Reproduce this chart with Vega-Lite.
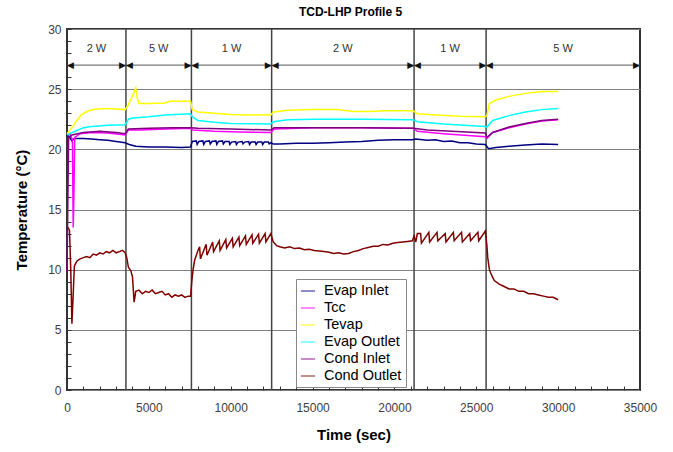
{
  "$schema": "https://vega.github.io/schema/vega-lite/v6.json",
  "width": 573,
  "height": 361,
  "autosize": "none",
  "padding": {"left": 67, "top": 29, "right": 33, "bottom": 62},
  "title": {"text": "TCD-LHP Profile 5", "fontSize": 12, "font": "Liberation Sans", "fontWeight": "bold", "offset": 4, "dx": -3, "anchor": "middle", "color": "#000"},
  "config": {
    "view": {"stroke": "#333", "strokeWidth": 2},
    "font": "Liberation Sans",
    "axis": {"labelFont": "Liberation Sans", "titleFont": "Liberation Sans"}
  },
  "datasets": {
    "segments": [
      {"label": "2 W", "start": 0, "end": 3600},
      {"label": "5 W", "start": 3600, "end": 7600},
      {"label": "1 W", "start": 7600, "end": 12500},
      {"label": "2 W", "start": 12500, "end": 21200},
      {"label": "1 W", "start": 21200, "end": 25600},
      {"label": "5 W", "start": 25600, "end": 35000}
    ],
    "series": [
      {"series":"Evap Inlet","time":0,"temp":21.2},{"series":"Evap Inlet","time":150,"temp":21.0},{"series":"Evap Inlet","time":300,"temp":20.7},{"series":"Evap Inlet","time":450,"temp":20.9},{"series":"Evap Inlet","time":1000,"temp":20.9},{"series":"Evap Inlet","time":1500,"temp":20.85},{"series":"Evap Inlet","time":2000,"temp":20.8},{"series":"Evap Inlet","time":2500,"temp":20.75},{"series":"Evap Inlet","time":3000,"temp":20.65},{"series":"Evap Inlet","time":3550,"temp":20.55},{"series":"Evap Inlet","time":3800,"temp":20.4},{"series":"Evap Inlet","time":4200,"temp":20.25},{"series":"Evap Inlet","time":5000,"temp":20.2},{"series":"Evap Inlet","time":6000,"temp":20.2},{"series":"Evap Inlet","time":7000,"temp":20.15},{"series":"Evap Inlet","time":7550,"temp":20.2},{"series":"Evap Inlet","time":7650,"temp":20.65},
      {"series":"Evap Inlet","time":7900,"temp":20.7},{"series":"Evap Inlet","time":7950,"temp":20.4},{"series":"Evap Inlet","time":8050,"temp":20.65},{"series":"Evap Inlet","time":8300,"temp":20.7},{"series":"Evap Inlet","time":8350,"temp":20.4},{"series":"Evap Inlet","time":8450,"temp":20.65},{"series":"Evap Inlet","time":8700,"temp":20.7},{"series":"Evap Inlet","time":8750,"temp":20.45},{"series":"Evap Inlet","time":8850,"temp":20.65},{"series":"Evap Inlet","time":9100,"temp":20.7},{"series":"Evap Inlet","time":9150,"temp":20.4},{"series":"Evap Inlet","time":9250,"temp":20.65},{"series":"Evap Inlet","time":9500,"temp":20.7},{"series":"Evap Inlet","time":9550,"temp":20.45},{"series":"Evap Inlet","time":9650,"temp":20.65},{"series":"Evap Inlet","time":9900,"temp":20.65},{"series":"Evap Inlet","time":9950,"temp":20.4},{"series":"Evap Inlet","time":10050,"temp":20.6},{"series":"Evap Inlet","time":10300,"temp":20.65},{"series":"Evap Inlet","time":10350,"temp":20.4},{"series":"Evap Inlet","time":10450,"temp":20.6},{"series":"Evap Inlet","time":10700,"temp":20.65},{"series":"Evap Inlet","time":10750,"temp":20.45},{"series":"Evap Inlet","time":10850,"temp":20.6},{"series":"Evap Inlet","time":11100,"temp":20.65},{"series":"Evap Inlet","time":11150,"temp":20.4},{"series":"Evap Inlet","time":11250,"temp":20.6},{"series":"Evap Inlet","time":11500,"temp":20.6},{"series":"Evap Inlet","time":11550,"temp":20.4},{"series":"Evap Inlet","time":11650,"temp":20.6},{"series":"Evap Inlet","time":11900,"temp":20.6},{"series":"Evap Inlet","time":11950,"temp":20.4},{"series":"Evap Inlet","time":12050,"temp":20.6},{"series":"Evap Inlet","time":12300,"temp":20.6},{"series":"Evap Inlet","time":12350,"temp":20.45},{"series":"Evap Inlet","time":12450,"temp":20.55},
      {"series":"Evap Inlet","time":12600,"temp":20.45},{"series":"Evap Inlet","time":13000,"temp":20.45},{"series":"Evap Inlet","time":14000,"temp":20.5},{"series":"Evap Inlet","time":15000,"temp":20.5},{"series":"Evap Inlet","time":16000,"temp":20.55},{"series":"Evap Inlet","time":17000,"temp":20.6},{"series":"Evap Inlet","time":18000,"temp":20.65},{"series":"Evap Inlet","time":19000,"temp":20.75},{"series":"Evap Inlet","time":20000,"temp":20.8},{"series":"Evap Inlet","time":21100,"temp":20.8},{"series":"Evap Inlet","time":21300,"temp":20.85},{"series":"Evap Inlet","time":22000,"temp":20.75},{"series":"Evap Inlet","time":22500,"temp":20.8},{"series":"Evap Inlet","time":23000,"temp":20.65},{"series":"Evap Inlet","time":23500,"temp":20.7},{"series":"Evap Inlet","time":24000,"temp":20.55},{"series":"Evap Inlet","time":24500,"temp":20.55},{"series":"Evap Inlet","time":25000,"temp":20.45},{"series":"Evap Inlet","time":25550,"temp":20.4},{"series":"Evap Inlet","time":25750,"temp":20.05},{"series":"Evap Inlet","time":26200,"temp":20.15},{"series":"Evap Inlet","time":27000,"temp":20.25},{"series":"Evap Inlet","time":28000,"temp":20.35},{"series":"Evap Inlet","time":29000,"temp":20.45},{"series":"Evap Inlet","time":30000,"temp":20.4},

      {"series":"Tcc","time":0,"temp":21.3},{"series":"Tcc","time":200,"temp":21.2},{"series":"Tcc","time":330,"temp":20.8},{"series":"Tcc","time":380,"temp":13.5},{"series":"Tcc","time":420,"temp":16.0},{"series":"Tcc","time":470,"temp":21.0},{"series":"Tcc","time":800,"temp":21.3},{"series":"Tcc","time":1500,"temp":21.4},{"series":"Tcc","time":2500,"temp":21.35},{"series":"Tcc","time":3550,"temp":21.2},{"series":"Tcc","time":3750,"temp":21.6},{"series":"Tcc","time":4500,"temp":21.6},{"series":"Tcc","time":6000,"temp":21.7},{"series":"Tcc","time":7550,"temp":21.75},{"series":"Tcc","time":7700,"temp":21.6},{"series":"Tcc","time":9000,"temp":21.5},{"series":"Tcc","time":10500,"temp":21.45},{"series":"Tcc","time":12450,"temp":21.4},{"series":"Tcc","time":12650,"temp":21.7},{"series":"Tcc","time":15000,"temp":21.8},{"series":"Tcc","time":18000,"temp":21.8},{"series":"Tcc","time":21150,"temp":21.75},{"series":"Tcc","time":21400,"temp":21.5},{"series":"Tcc","time":23000,"temp":21.3},{"series":"Tcc","time":25550,"temp":21.05},{"series":"Tcc","time":25650,"temp":20.9},{"series":"Tcc","time":26000,"temp":21.4},{"series":"Tcc","time":27000,"temp":21.8},{"series":"Tcc","time":28000,"temp":22.1},{"series":"Tcc","time":29000,"temp":22.35},{"series":"Tcc","time":30000,"temp":22.45},

      {"series":"Tevap","time":0,"temp":21.3},{"series":"Tevap","time":300,"temp":21.8},{"series":"Tevap","time":600,"temp":22.4},{"series":"Tevap","time":900,"temp":22.9},{"series":"Tevap","time":1300,"temp":23.2},{"series":"Tevap","time":1800,"temp":23.35},{"series":"Tevap","time":2500,"temp":23.4},{"series":"Tevap","time":3000,"temp":23.35},{"series":"Tevap","time":3550,"temp":23.3},{"series":"Tevap","time":3700,"temp":23.6},{"series":"Tevap","time":3950,"temp":24.3},{"series":"Tevap","time":4200,"temp":25.1},{"series":"Tevap","time":4280,"temp":24.3},{"series":"Tevap","time":4400,"temp":23.8},{"series":"Tevap","time":5000,"temp":23.8},{"series":"Tevap","time":6000,"temp":23.85},{"series":"Tevap","time":6300,"temp":24.0},{"series":"Tevap","time":7550,"temp":24.0},{"series":"Tevap","time":7650,"temp":23.3},{"series":"Tevap","time":8000,"temp":23.1},{"series":"Tevap","time":9000,"temp":23.0},{"series":"Tevap","time":10000,"temp":22.9},{"series":"Tevap","time":11000,"temp":22.85},{"series":"Tevap","time":12450,"temp":22.85},{"series":"Tevap","time":12600,"temp":23.1},{"series":"Tevap","time":13500,"temp":23.25},{"series":"Tevap","time":15000,"temp":23.3},{"series":"Tevap","time":16500,"temp":23.3},{"series":"Tevap","time":17500,"temp":23.15},{"series":"Tevap","time":18500,"temp":23.15},{"series":"Tevap","time":19500,"temp":23.2},{"series":"Tevap","time":21150,"temp":23.2},{"series":"Tevap","time":21400,"temp":22.95},{"series":"Tevap","time":22500,"temp":22.85},{"series":"Tevap","time":24000,"temp":22.75},{"series":"Tevap","time":25550,"temp":22.7},{"series":"Tevap","time":25650,"temp":22.8},{"series":"Tevap","time":25800,"temp":23.8},{"series":"Tevap","time":26200,"temp":24.1},{"series":"Tevap","time":27000,"temp":24.4},{"series":"Tevap","time":28000,"temp":24.65},{"series":"Tevap","time":29000,"temp":24.8},{"series":"Tevap","time":30000,"temp":24.8},

      {"series":"Evap Outlet","time":0,"temp":21.2},{"series":"Evap Outlet","time":500,"temp":21.5},{"series":"Evap Outlet","time":1000,"temp":21.8},{"series":"Evap Outlet","time":1500,"temp":21.9},{"series":"Evap Outlet","time":2500,"temp":22.0},{"series":"Evap Outlet","time":3550,"temp":22.05},{"series":"Evap Outlet","time":3750,"temp":22.5},{"series":"Evap Outlet","time":4000,"temp":22.6},{"series":"Evap Outlet","time":5000,"temp":22.7},{"series":"Evap Outlet","time":6000,"temp":22.85},{"series":"Evap Outlet","time":7550,"temp":22.95},{"series":"Evap Outlet","time":7650,"temp":22.7},{"series":"Evap Outlet","time":8000,"temp":22.4},{"series":"Evap Outlet","time":9000,"temp":22.25},{"series":"Evap Outlet","time":10000,"temp":22.15},{"series":"Evap Outlet","time":12450,"temp":22.1},{"series":"Evap Outlet","time":12600,"temp":22.3},{"series":"Evap Outlet","time":13500,"temp":22.45},{"series":"Evap Outlet","time":15000,"temp":22.5},{"series":"Evap Outlet","time":18000,"temp":22.5},{"series":"Evap Outlet","time":21150,"temp":22.45},{"series":"Evap Outlet","time":21400,"temp":22.3},{"series":"Evap Outlet","time":23000,"temp":22.1},{"series":"Evap Outlet","time":25550,"temp":21.9},{"series":"Evap Outlet","time":25650,"temp":21.85},{"series":"Evap Outlet","time":26000,"temp":22.4},{"series":"Evap Outlet","time":27000,"temp":22.8},{"series":"Evap Outlet","time":28000,"temp":23.1},{"series":"Evap Outlet","time":29000,"temp":23.3},{"series":"Evap Outlet","time":30000,"temp":23.4},

      {"series":"Cond Inlet","time":0,"temp":9.8},{"series":"Cond Inlet","time":100,"temp":21.0},{"series":"Cond Inlet","time":300,"temp":21.2},{"series":"Cond Inlet","time":1000,"temp":21.4},{"series":"Cond Inlet","time":2000,"temp":21.5},{"series":"Cond Inlet","time":3000,"temp":21.4},{"series":"Cond Inlet","time":3550,"temp":21.3},{"series":"Cond Inlet","time":3750,"temp":21.7},{"series":"Cond Inlet","time":5000,"temp":21.75},{"series":"Cond Inlet","time":6500,"temp":21.8},{"series":"Cond Inlet","time":7550,"temp":21.8},{"series":"Cond Inlet","time":8000,"temp":21.75},{"series":"Cond Inlet","time":10000,"temp":21.7},{"series":"Cond Inlet","time":12450,"temp":21.6},{"series":"Cond Inlet","time":12650,"temp":21.8},{"series":"Cond Inlet","time":15000,"temp":21.8},{"series":"Cond Inlet","time":18000,"temp":21.8},{"series":"Cond Inlet","time":21150,"temp":21.75},{"series":"Cond Inlet","time":22000,"temp":21.6},{"series":"Cond Inlet","time":23500,"temp":21.5},{"series":"Cond Inlet","time":25550,"temp":21.35},{"series":"Cond Inlet","time":25650,"temp":21.0},{"series":"Cond Inlet","time":26000,"temp":21.4},{"series":"Cond Inlet","time":27000,"temp":21.85},{"series":"Cond Inlet","time":28000,"temp":22.15},{"series":"Cond Inlet","time":29000,"temp":22.4},{"series":"Cond Inlet","time":30000,"temp":22.5},

      {"series":"Cond Outlet","time":0,"temp":13.6},{"series":"Cond Outlet","time":150,"temp":13.3},{"series":"Cond Outlet","time":230,"temp":10.0},{"series":"Cond Outlet","time":300,"temp":5.5},{"series":"Cond Outlet","time":380,"temp":8.0},{"series":"Cond Outlet","time":450,"temp":10.3},{"series":"Cond Outlet","time":600,"temp":10.7},{"series":"Cond Outlet","time":800,"temp":10.9},{"series":"Cond Outlet","time":1000,"temp":11.0},{"series":"Cond Outlet","time":1200,"temp":11.1},{"series":"Cond Outlet","time":1400,"temp":11.0},{"series":"Cond Outlet","time":1600,"temp":11.3},{"series":"Cond Outlet","time":1800,"temp":11.2},{"series":"Cond Outlet","time":2000,"temp":11.4},{"series":"Cond Outlet","time":2200,"temp":11.3},{"series":"Cond Outlet","time":2400,"temp":11.5},{"series":"Cond Outlet","time":2600,"temp":11.4},{"series":"Cond Outlet","time":2800,"temp":11.6},{"series":"Cond Outlet","time":3000,"temp":11.4},{"series":"Cond Outlet","time":3200,"temp":11.5},{"series":"Cond Outlet","time":3400,"temp":11.6},{"series":"Cond Outlet","time":3550,"temp":11.4},{"series":"Cond Outlet","time":3650,"temp":11.0},{"series":"Cond Outlet","time":3750,"temp":10.2},{"series":"Cond Outlet","time":3900,"temp":9.9},{"series":"Cond Outlet","time":4000,"temp":9.4},{"series":"Cond Outlet","time":4100,"temp":7.3},{"series":"Cond Outlet","time":4200,"temp":8.2},{"series":"Cond Outlet","time":4400,"temp":8.3},{"series":"Cond Outlet","time":4600,"temp":8.0},{"series":"Cond Outlet","time":4800,"temp":8.2},{"series":"Cond Outlet","time":5000,"temp":8.1},{"series":"Cond Outlet","time":5200,"temp":8.3},{"series":"Cond Outlet","time":5400,"temp":8.0},{"series":"Cond Outlet","time":5600,"temp":8.1},{"series":"Cond Outlet","time":5800,"temp":8.2},{"series":"Cond Outlet","time":6000,"temp":7.9},{"series":"Cond Outlet","time":6200,"temp":8.0},{"series":"Cond Outlet","time":6400,"temp":7.7},{"series":"Cond Outlet","time":6600,"temp":7.9},{"series":"Cond Outlet","time":6800,"temp":7.8},{"series":"Cond Outlet","time":7000,"temp":7.9},{"series":"Cond Outlet","time":7200,"temp":7.7},{"series":"Cond Outlet","time":7400,"temp":7.8},{"series":"Cond Outlet","time":7550,"temp":7.8},{"series":"Cond Outlet","time":7620,"temp":9.0},{"series":"Cond Outlet","time":7700,"temp":10.0},{"series":"Cond Outlet","time":7800,"temp":10.8},{"series":"Cond Outlet","time":7900,"temp":11.2},{"series":"Cond Outlet","time":8000,"temp":11.6},{"series":"Cond Outlet","time":8100,"temp":11.9},{"series":"Cond Outlet","time":8150,"temp":10.9},{"series":"Cond Outlet","time":8500,"temp":12.1},{"series":"Cond Outlet","time":8550,"temp":11.2},{"series":"Cond Outlet","time":8900,"temp":12.3},{"series":"Cond Outlet","time":8950,"temp":11.5},{"series":"Cond Outlet","time":9300,"temp":12.4},{"series":"Cond Outlet","time":9350,"temp":11.6},{"series":"Cond Outlet","time":9700,"temp":12.5},{"series":"Cond Outlet","time":9750,"temp":11.8},{"series":"Cond Outlet","time":10100,"temp":12.6},{"series":"Cond Outlet","time":10150,"temp":11.9},{"series":"Cond Outlet","time":10500,"temp":12.7},{"series":"Cond Outlet","time":10550,"temp":12.0},{"series":"Cond Outlet","time":10900,"temp":12.8},{"series":"Cond Outlet","time":10950,"temp":12.1},{"series":"Cond Outlet","time":11300,"temp":12.9},{"series":"Cond Outlet","time":11350,"temp":12.2},{"series":"Cond Outlet","time":11700,"temp":12.95},{"series":"Cond Outlet","time":11750,"temp":12.2},{"series":"Cond Outlet","time":12100,"temp":13.0},{"series":"Cond Outlet","time":12150,"temp":12.3},{"series":"Cond Outlet","time":12450,"temp":13.0},{"series":"Cond Outlet","time":12600,"temp":12.3},{"series":"Cond Outlet","time":12800,"temp":12.0},{"series":"Cond Outlet","time":13000,"temp":11.9},{"series":"Cond Outlet","time":13300,"temp":11.8},{"series":"Cond Outlet","time":13600,"temp":11.9},{"series":"Cond Outlet","time":13900,"temp":11.75},{"series":"Cond Outlet","time":14200,"temp":11.8},{"series":"Cond Outlet","time":14500,"temp":11.65},{"series":"Cond Outlet","time":14800,"temp":11.7},{"series":"Cond Outlet","time":15100,"temp":11.6},{"series":"Cond Outlet","time":15400,"temp":11.55},{"series":"Cond Outlet","time":15700,"temp":11.5},{"series":"Cond Outlet","time":16000,"temp":11.45},{"series":"Cond Outlet","time":16300,"temp":11.35},{"series":"Cond Outlet","time":16600,"temp":11.4},{"series":"Cond Outlet","time":16900,"temp":11.3},{"series":"Cond Outlet","time":17200,"temp":11.35},{"series":"Cond Outlet","time":17500,"temp":11.5},{"series":"Cond Outlet","time":17800,"temp":11.6},{"series":"Cond Outlet","time":18100,"temp":11.75},{"series":"Cond Outlet","time":18400,"temp":11.85},{"series":"Cond Outlet","time":18700,"temp":11.95},{"series":"Cond Outlet","time":19000,"temp":11.95},{"series":"Cond Outlet","time":19300,"temp":12.1},{"series":"Cond Outlet","time":19600,"temp":12.05},{"series":"Cond Outlet","time":19900,"temp":12.2},{"series":"Cond Outlet","time":20200,"temp":12.25},{"series":"Cond Outlet","time":20500,"temp":12.3},{"series":"Cond Outlet","time":20800,"temp":12.35},{"series":"Cond Outlet","time":21100,"temp":12.4},{"series":"Cond Outlet","time":21200,"temp":12.8},{"series":"Cond Outlet","time":21300,"temp":12.3},{"series":"Cond Outlet","time":21400,"temp":13.0},{"series":"Cond Outlet","time":21600,"temp":13.0},{"series":"Cond Outlet","time":21650,"temp":12.2},{"series":"Cond Outlet","time":22100,"temp":13.1},{"series":"Cond Outlet","time":22150,"temp":12.3},{"series":"Cond Outlet","time":22600,"temp":13.1},{"series":"Cond Outlet","time":22650,"temp":12.4},{"series":"Cond Outlet","time":23100,"temp":13.0},{"series":"Cond Outlet","time":23150,"temp":12.3},{"series":"Cond Outlet","time":23600,"temp":13.1},{"series":"Cond Outlet","time":23650,"temp":12.4},{"series":"Cond Outlet","time":24100,"temp":13.1},{"series":"Cond Outlet","time":24150,"temp":12.3},{"series":"Cond Outlet","time":24600,"temp":13.0},{"series":"Cond Outlet","time":24650,"temp":12.4},{"series":"Cond Outlet","time":25100,"temp":13.1},{"series":"Cond Outlet","time":25150,"temp":12.4},{"series":"Cond Outlet","time":25550,"temp":13.2},{"series":"Cond Outlet","time":25650,"temp":12.0},{"series":"Cond Outlet","time":25700,"temp":11.0},{"series":"Cond Outlet","time":25800,"temp":10.0},{"series":"Cond Outlet","time":25950,"temp":9.5},{"series":"Cond Outlet","time":26100,"temp":9.1},{"series":"Cond Outlet","time":26400,"temp":8.8},{"series":"Cond Outlet","time":26700,"temp":8.6},{"series":"Cond Outlet","time":27000,"temp":8.4},{"series":"Cond Outlet","time":27300,"temp":8.4},{"series":"Cond Outlet","time":27600,"temp":8.2},{"series":"Cond Outlet","time":27900,"temp":8.2},{"series":"Cond Outlet","time":28200,"temp":8.0},{"series":"Cond Outlet","time":28500,"temp":8.0},{"series":"Cond Outlet","time":28800,"temp":7.9},{"series":"Cond Outlet","time":29100,"temp":7.8},{"series":"Cond Outlet","time":29400,"temp":7.7},{"series":"Cond Outlet","time":29700,"temp":7.7},{"series":"Cond Outlet","time":30000,"temp":7.5}
    ]
  },
  "layer": [
    {
      "data": {"name": "segments"},
      "transform": [{"filter": "datum.start > 0"}],
      "mark": {"type": "rule", "color": "#444", "strokeWidth": 1.5},
      "encoding": {
        "x": {"field": "start", "type": "quantitative", "scale": {"domain": [0, 35000], "nice": false}}
      }
    },
    {
      "data": {"name": "segments"},
      "mark": {"type": "rule", "color": "#555", "strokeWidth": 1},
      "encoding": {
        "x": {"field": "start", "type": "quantitative", "scale": {"domain": [0, 35000], "nice": false}},
        "x2": {"field": "end"},
        "y": {"datum": 27, "type": "quantitative", "scale": {"domain": [0, 30], "nice": false}}
      }
    },
    {
      "data": {"name": "segments"},
      "mark": {"type": "text", "text": "◀", "align": "left", "baseline": "middle", "fontSize": 9, "font": "DejaVu Sans", "color": "#111"},
      "encoding": {
        "x": {"field": "start", "type": "quantitative", "scale": {"domain": [0, 35000], "nice": false}},
        "y": {"datum": 27, "type": "quantitative", "scale": {"domain": [0, 30], "nice": false}}
      }
    },
    {
      "data": {"name": "segments"},
      "mark": {"type": "text", "text": "▶", "align": "right", "baseline": "middle", "fontSize": 9, "font": "DejaVu Sans", "color": "#111"},
      "encoding": {
        "x": {"field": "end", "type": "quantitative", "scale": {"domain": [0, 35000], "nice": false}},
        "y": {"datum": 27, "type": "quantitative", "scale": {"domain": [0, 30], "nice": false}}
      }
    },
    {
      "data": {"name": "segments"},
      "transform": [{"calculate": "(datum.start + datum.end) / 2", "as": "mid"}],
      "mark": {"type": "text", "align": "center", "baseline": "middle", "fontSize": 11, "font": "Liberation Sans", "color": "#333"},
      "encoding": {
        "x": {"field": "mid", "type": "quantitative", "scale": {"domain": [0, 35000], "nice": false}},
        "y": {"datum": 28.35, "type": "quantitative", "scale": {"domain": [0, 30], "nice": false}},
        "text": {"field": "label"}
      }
    },
    {
      "data": {"name": "series"},
      "mark": {"type": "line", "strokeWidth": 1.5, "interpolate": "linear"},
      "encoding": {
        "x": {"field": "time", "type": "quantitative",
          "scale": {"domain": [0, 35000], "nice": false},
          "axis": {"orient": "bottom", "values": [0,1000,2000,3000,4000,5000,6000,7000,8000,9000,10000,11000,12000,13000,14000,15000,16000,17000,18000,19000,20000,21000,22000,23000,24000,25000,26000,27000,28000,29000,30000,31000,32000,33000,34000,35000],
            "tickCount": 50,
            "labelExpr": "datum.value % 5000 === 0 ? format(datum.value, 'd') : ''",
            "labelOverlap": false, "labelBound": false,
            "ticks": true, "tickSize": 4, "offset": -4, "tickColor": "#333", "tickWidth": 1,
            "domain": false, "grid": false,
            "labelPadding": 12, "labelFontSize": 12, "labelColor": "#404040", "labelFlush": false,
            "title": "Time (sec)", "titleFontSize": 15, "titleFontWeight": "bold", "titleColor": "#000", "titlePadding": 14}},
        "y": {"field": "temp", "type": "quantitative",
          "scale": {"domain": [0, 30], "nice": false},
          "axis": {"orient": "left", "values": [0,1,2,3,4,5,6,7,8,9,10,11,12,13,14,15,16,17,18,19,20,21,22,23,24,25,26,27,28,29,30],
            "tickCount": 50,
            "labelExpr": "datum.value % 5 === 0 ? format(datum.value, 'd') : ''",
            "labelOverlap": false, "labelBound": false,
            "ticks": true, "tickSize": 4, "offset": -4, "tickColor": "#333", "tickWidth": 1,
            "domain": false, "grid": true, "gridColor": "#808080", "gridWidth": 1,
            "gridOpacity": {"condition": {"test": "datum.value % 5 === 0", "value": 1}, "value": 0},
            "labelPadding": 6, "labelFontSize": 12, "labelColor": "#404040",
            "title": "Temperature (°C)", "titleFontSize": 15, "titleFontWeight": "bold", "titleColor": "#000", "titlePadding": 18}},
        "color": {"field": "series", "type": "nominal",
          "scale": {"domain": ["Evap Inlet", "Tcc", "Tevap", "Evap Outlet", "Cond Inlet", "Cond Outlet"],
                    "range": ["#000080", "#FF00FF", "#FFFF00", "#00FFFF", "#800080", "#800000"]},
          "legend": {"orient": "none", "legendX": 229, "legendY": 250, "title": null,
            "symbolType": "stroke", "symbolStrokeWidth": 1.5, "symbolSize": 200, "symbolOpacity": 0.6,
            "labelFontSize": 14.5, "labelFont": "Liberation Sans", "labelColor": "#000", "labelOffset": 8, "labelLimit": 200,
            "rowPadding": 2, "padding": 4, "strokeColor": "#888", "fillColor": "#fff"}}
      }
    }
  ]
}
